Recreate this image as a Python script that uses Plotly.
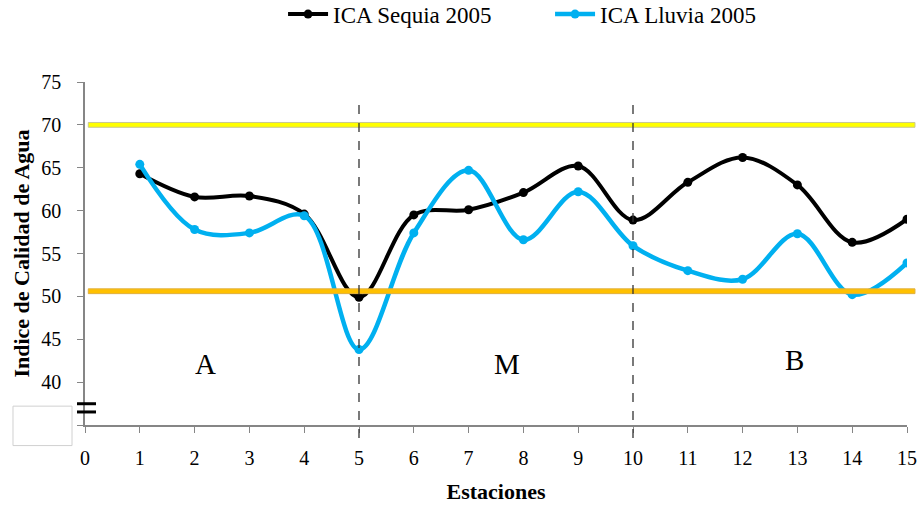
import plotly.graph_objects as go

# ---- data ----
estaciones = list(range(1, 16))
ica_sequia = [64.3, 61.6, 61.7, 59.6, 49.9, 59.5, 60.1, 62.1, 65.2, 58.9, 63.3, 66.2, 63.0, 56.3, 59.0]
ica_lluvia = [65.4, 57.8, 57.4, 59.4, 43.8, 57.4, 64.7, 56.6, 62.2, 55.9, 53.0, 52.0, 57.3, 50.2, 53.9]
serie_nombres = ["ICA Sequia 2005", "ICA Lluvia 2005"]
umbral_alto = 70.0
umbral_bajo = 50.6
divisiones = [5, 10]
zonas = ["A", "M", "B"]
zonas_x = [2.2, 7.7, 12.95]
zonas_y = [42.1, 42.1, 42.6]
y_ticks = [35, 40, 45, 50, 55, 60, 65, 70, 75]
y_ticktext = ["", "40", "45", "50", "55", "60", "65", "70", "75"]
x_ticks = list(range(0, 16))

X_RANGE = [0, 15]
Y_RANGE = [35, 75]
FONT = "Liberation Serif, Times New Roman, serif"
AXIS_COLOR = "#868686"

fig = go.Figure()
fig.add_trace(go.Scatter(
    x=estaciones, y=ica_sequia, name=serie_nombres[0],
    mode="lines+markers", line=dict(color="#000000", width=4, shape="spline"),
    marker=dict(color="#000000", size=9),
))
fig.add_trace(go.Scatter(
    x=estaciones, y=ica_lluvia, name=serie_nombres[1],
    mode="lines+markers", line=dict(color="#00B0F0", width=4.5, shape="spline"),
    marker=dict(color="#00B0F0", size=9),
))

shapes = []
for val, col, edge in [(umbral_alto, "#FFFF00", "#C8C890"), (umbral_bajo, "#FFC000", "#E0B040")]:
    shapes.append(dict(type="rect", xref="paper", yref="y",
                       x0=0.004, x1=1.0097, y0=val - 0.28, y1=val + 0.28,
                       fillcolor=col, line=dict(color=edge, width=1), layer="above"))
for d in divisiones:
    xp = (d - X_RANGE[0]) / (X_RANGE[1] - X_RANGE[0])
    shapes.append(dict(type="line", xref="paper", yref="paper",
                       x0=xp, x1=xp, y0=-0.038, y1=0.94,
                       line=dict(color="#333333", width=1.3, dash="dash"), layer="above"))
for yp in [0.062, 0.038]:
    shapes.append(dict(type="line", xref="paper", yref="paper",
                       x0=-0.0097, x1=0.0134, y0=yp, y1=yp,
                       line=dict(color="#000000", width=3)))
shapes.append(dict(type="rect", xref="paper", yref="paper",
                   x0=-0.0876, x1=-0.0158, y0=-0.06, y1=0.055,
                   line=dict(color="#D0D0D0", width=1), fillcolor="rgba(0,0,0,0)"))

annotations = []
for t, xv, yv in zip(zonas, zonas_x, zonas_y):
    annotations.append(dict(x=xv, y=yv, xref="x", yref="y", text=t, showarrow=False,
                            font=dict(family=FONT, size=29, color="#000000")))

fig.update_layout(
    width=919, height=506,
    margin=dict(l=85, r=12, t=82, b=81, autoexpand=False),
    paper_bgcolor="white", plot_bgcolor="white",
    font=dict(family=FONT, color="#000000", size=20),
    shapes=shapes, annotations=annotations,
    showlegend=True,
    legend=dict(orientation="h", xref="container", x=0.308, xanchor="left",
                yref="container", y=0.972, yanchor="middle",
                font=dict(family=FONT, size=23, color="#000000"),
                bgcolor="rgba(0,0,0,0)", itemwidth=40,
                entrywidth=212, entrywidthmode="pixels"),
    xaxis=dict(range=X_RANGE, tickvals=x_ticks, ticks="outside", ticklen=6,
               tickcolor=AXIS_COLOR, showline=True, linecolor=AXIS_COLOR, linewidth=1.5,
               showgrid=False, zeroline=False, ticklabelstandoff=8,
               tickfont=dict(family=FONT, size=20, color="#000000"),
               title=dict(text="<b>Estaciones</b>", standoff=16,
                          font=dict(family=FONT, size=22, color="#000000"))),
    yaxis=dict(range=Y_RANGE, tickvals=y_ticks, ticktext=y_ticktext, ticks="outside", ticklen=6,
               tickcolor=AXIS_COLOR, showline=True, linecolor=AXIS_COLOR, linewidth=1.5,
               showgrid=False, zeroline=False, ticklabelstandoff=12,
               tickfont=dict(family=FONT, size=20, color="#000000"),
               title=dict(text="<b>Indice de Calidad de Agua</b>", standoff=6,
                          font=dict(family=FONT, size=22, color="#000000"))),
)

fig.write_html("out.html", config={"displayModeBar": False},
               post_script="document.body.style.margin='0';")
